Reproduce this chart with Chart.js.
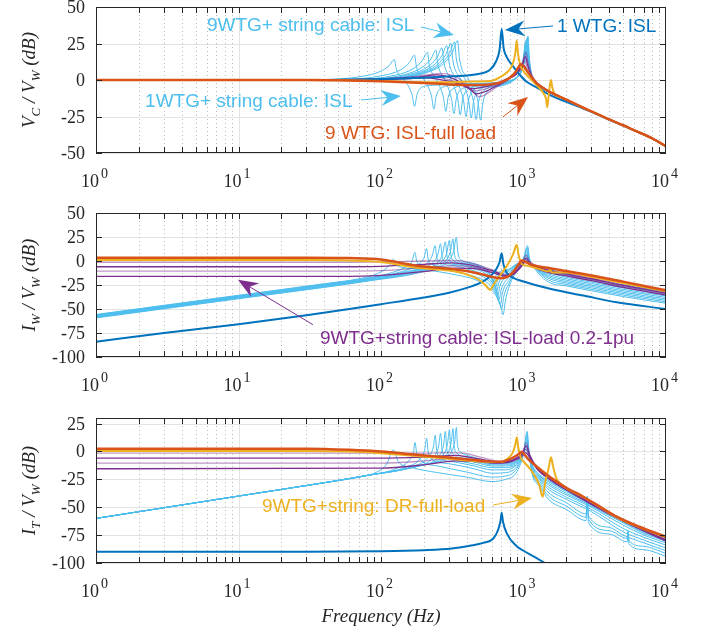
<!DOCTYPE html>
<html>
<head>
<meta charset="utf-8">
<script src="https://cdn.jsdelivr.net/npm/chart.js@4.4.0/dist/chart.umd.min.js"></script>
<style>
  body { margin: 0; background: #fff; }
  #wrap { position: relative; width: 709px; height: 635px; }
  #wrap canvas { position: absolute; left: 0; top: 0; }
</style>
</head>
<body>
<div id="wrap">
  <canvas id="vc" width="709" height="635"></canvas>
  <canvas id="iw" width="709" height="635"></canvas>
  <canvas id="it" width="709" height="635"></canvas>
</div>
<script>
// tick labels
const xTicks = [1, 10, 100, 1000, 10000];
const xTickExps = ['0', '1', '2', '3', '4'];
const vcTicks = [-50, -25, 0, 25, 50];
const iwTicks = [-100, -75, -50, -25, 0, 25, 50];
const itTicks = [-100, -75, -50, -25, 0, 25];

// ---------- panel 1 : Vc / Vw (dB), points are [Hz, dB] ----------
const vcTail = [[1550,-8.5],[2000,-13.5],[2630,-19],[3000,-21.5],[4000,-27],[5000,-31],[6000,-34.5],[8000,-40],[10000,-45.5]];
const vcCableTail = [[1150,2],[1236,-3],[1550,-8.8],[2000,-13.7],[2630,-19.1],[3000,-21.6],[4000,-27],[5000,-31],[6000,-34.5],[8000,-40],[10000,-45.5]];

const vcWtg = [[1,0],[30,0],[60,0.3],[100,0.6],[200,1.5],[314,2.5],[470,4],[582,7],[640,12.5],[680,21],[703,35],[725,22],[760,16],[850,9],[944,3.4],[1052,-1.2],[1236,-5],[1535,-10.3],[2000,-15],[2630,-19.5],[3000,-21.8],[4000,-27.2],[5000,-31.2],[6000,-34.6],[8000,-40],[10000,-45.5]];
const vcFull = [[1,0],[30,0],[60,-0.3],[100,-0.8],[200,-2],[300,-3],[450,-3.5],[580,-3],[700,-1.5],[800,1.5],[880,5.5],[930,9.5],[960,10.8],[1000,9.5],[1080,5],[1150,1.5],[1236,-2.3],[1374,-5.5]];
const vcDr = [[1,0],[30,0],[60,-0.3],[100,-0.7],[200,-1.5],[300,-1.5],[450,-1],[600,-0.5],[700,2.5],[780,6],[840,11],[875,18],[896,27],[915,18],[950,10],[1000,6],[1100,1.5],[1236,-3.4],[1380,-9],[1440,-13],[1470,-18.7],[1500,-11],[1530,-4],[1560,0],[1590,-5],[1664,-10],[1800,-11.5],[2000,-13.5],[2630,-19],[3000,-21.5],[4000,-27],[5000,-31],[6000,-34.5],[8000,-40],[10000,-45.5]];
const vcLoad = [
  [[1,0],[50,0.3],[100,1],[180,2.5],[260,4.5],[320,3],[380,-1.5],[440,-7.5],[490,-11.5],[540,-10],[620,-6],[750,-1],[880,5],[980,12],[1040,19],[1075,12],[1150,3],[1236,-1.5],[1374,-5]],
  [[1,0],[50,0.3],[100,0.8],[180,2],[245,3.5],[300,2],[360,-1.5],[420,-6],[465,-9.5],[520,-8.5],[620,-5],[750,-0.5],[880,4.5],[980,10.5],[1030,16],[1070,10],[1150,2],[1236,-2],[1374,-5.2]],
  [[1,0],[50,0.2],[100,0.6],[170,1.5],[225,2.5],[280,1],[340,-1.5],[400,-5],[445,-7.5],[500,-7],[620,-4],[750,0],[880,4],[970,9],[1020,13],[1065,8],[1150,1.5],[1236,-2.2],[1374,-5.3]],
  [[1,0],[50,0.1],[100,0.4],[160,1],[205,1.5],[260,0.3],[320,-1.5],[380,-4],[425,-6],[480,-5.5],[620,-3],[750,0.5],[880,3.5],[960,7.5],[1010,10],[1060,6],[1150,1],[1236,-2.5],[1374,-5.4]]
];
const vcCable = [
  [[1,0],[37,0.3],[74,2.5],[99,5.9],[114,9.8],[124,14],[128,7.7],[146,0],[165,-9.9],[172,-18],[179,-9.9],[198,-4.5],[241,-3.5],[400,-2.5],[700,-1.5],[900,2],[980,8],[1045,18],[1075,30],[1100,15]],
  [[1,0],[52,0.3],[103,3.1],[138,7.1],[158,11.9],[172,17],[177,9.4],[201,0],[226,-11],[235,-20],[244,-11],[270,-5],[329,-3.5],[500,-2.5],[700,-1.5],[900,2],[980,8],[1040,18],[1070,29.5],[1095,15]],
  [[1,0],[64,0.3],[127,3.4],[170,8],[195,13.3],[212,19],[218,10.5],[246,0],[274,-11.8],[285,-21.5],[296,-11.8],[328,-5.4],[399,-3.5],[550,-2.5],[700,-1.5],[900,2],[980,8],[1035,18],[1065,29],[1090,15]],
  [[1,0],[73,0.3],[146,3.7],[194,8.6],[224,14.4],[243,20.5],[250,11.3],[281,0],[312,-12.7],[325,-23],[338,-12.7],[374,-5.8],[455,-3.8],[600,-2.5],[750,-1],[900,2],[980,8],[1030,18],[1060,28.5],[1085,15]],
  [[1,0],[80,0.3],[161,4],[214,9.2],[247,15.4],[268,22],[276,12.1],[311,0],[346,-13.2],[360,-24],[374,-13.2],[414,-6],[504,-4],[650,-2.5],[780,-1],[900,2],[980,8],[1025,18],[1055,28],[1080,15]],
  [[1,0],[87,0.3],[174,4.2],[232,9.9],[267,16.5],[290,23.5],[299,12.9],[338,0],[379,-13.8],[395,-25],[411,-13.8],[454,-6.3],[553,-4.2],[700,-2.5],[800,-1],[900,2],[980,8],[1020,18],[1050,27.5],[1075,15]],
  [[1,0],[93,0.3],[186,4.5],[248,10.5],[285,17.5],[310,25],[319,13.8],[365,0],[413,-14.3],[430,-26],[447,-14.3],[495,-6.5],[602,-4.2],[750,-2],[850,0],[920,2.5],[980,8],[1015,18],[1045,27],[1070,15]],
  [[1,0],[98,0.3],[197,4.7],[262,10.9],[302,18.2],[328,26],[338,14.3],[391,0],[446,-14.9],[465,-27],[484,-14.9],[535,-6.8],[651,-4.2],[780,-2],[880,1],[940,4],[980,8],[1010,18],[1040,26.5],[1065,15]],
  [[1,0],[104,0.3],[207,4.9],[276,11.3],[317,18.9],[345,27],[355,14.9],[415,0],[480,-15.1],[500,-27.5],[520,-15.1],[575,-6.9],[700,-4],[820,-1.5],[900,2],[950,5],[980,8],[1005,18],[1035,26],[1060,15]]
];

// ---------- panel 2 : Iw / Vw (dB) ----------
const iwWtg = [[1,-84],[3,-75],[10,-66],[30,-56.5],[60,-50],[100,-45],[200,-38],[300,-33],[400,-28],[500,-22.5],[580,-16.5],[640,-9],[680,-1],[703,8],[722,-3],[760,-12],[850,-17.5],[1000,-21.3],[1535,-29],[2630,-36],[4510,-43],[10000,-50]];
const iwFull = [[1,3.5],[30,3.5],[60,3],[100,1.5],[178,-5],[300,-8],[400,-10.5],[500,-13.5],[600,-16.5],[700,-18],[780,-16],[850,-11],[920,-4],[970,0.5],[1020,-0.5],[1100,-3],[1250,-5.5],[1535,-7.5],[2000,-10.5],[3000,-15],[5000,-21.5],[10000,-30.6]];
const iwDr = [[1,1],[30,1],[60,0.5],[100,-1],[178,-7],[300,-10],[400,-14],[480,-19],[540,-25],[582,-30],[620,-24],[700,-13],[780,-3],[850,8],[896,16.8],[925,6],[960,-2],[1000,-4],[1100,-5.5],[1300,-8.5],[1500,-11],[1540,-9],[1580,-12],[2000,-12],[3000,-16.5],[5000,-23],[10000,-31.5]];
const iwLoad = [
  [[1,-1.5],[50,-1.5],[100,-1],[200,0],[300,0.5],[360,0.3],[450,-3],[600,-9],[750,-14],[850,-12],[950,-4],[1050,6],[1100,0],[1200,-4],[1500,-9],[2000,-12.5],[3000,-17.5],[5000,-24.5],[10000,-32.5]],
  [[1,-6],[50,-6],[100,-5.5],[200,-3.5],[320,-2],[450,-5],[600,-10],[750,-15],[850,-13],[950,-6],[1045,3],[1100,-1.5],[1200,-5],[1500,-10],[2000,-13.5],[3000,-18.5],[5000,-25.5],[10000,-33.5]],
  [[1,-10.5],[50,-10.5],[100,-10],[200,-7],[330,-5],[450,-6.5],[600,-11],[750,-15.5],[850,-13.5],[950,-6.5],[1040,1],[1100,-2.5],[1200,-6],[1500,-11],[2000,-14.5],[3000,-19.5],[5000,-26.5],[10000,-34.5]],
  [[1,-16],[50,-16],[100,-15],[200,-11],[330,-7.5],[450,-8],[600,-12],[750,-16],[850,-14],[950,-7],[1035,-1],[1100,-3.5],[1200,-7],[1500,-12],[2000,-15.5],[3000,-20.5],[5000,-27.5],[10000,-35.5]]
];
const iwCable = [
  [[1,-55.7],[10,-35.7],[40,-23.7],[70,-18.5],[95,-13],[110,-7],[118,-2],[122,2],[127,-3],[135,-6],[170,-8],[250,-11],[350,-15],[450,-19],[550,-26],[640,-36],[700,-50],[720,-56],[745,-42],[800,-25],[900,-10],[1000,2],[1068,16],[1100,3],[1200,-8],[1500,-22],[2000,-26],[3000,-31],[5000,-37],[10000,-44]],
  [[1,-56.15],[10,-36.15],[40,-24],[80,-18],[120,-12],[150,-6],[165,-0.5],[173,9],[178,0],[190,-5],[250,-8],[350,-12],[450,-16],[550,-22],[630,-32],[685,-45],[705,-50],[725,-38],[800,-22],[900,-8],[1000,2],[1062,14],[1100,2],[1200,-7],[1500,-20],[2000,-24.5],[3000,-29.5],[5000,-35.5],[10000,-42.5]],
  [[1,-56.6],[10,-36.6],[40,-24.5],[80,-18],[140,-11],[180,-4],[200,3],[209,13],[214,2],[225,-3],[300,-7],[400,-11],[500,-15],[580,-22],[650,-34],[690,-45],[710,-34],[800,-19],[900,-7],[1000,2],[1056,12],[1100,1],[1200,-7],[1500,-18],[2000,-23],[3000,-28],[5000,-34],[10000,-41]],
  [[1,-57.05],[10,-37.05],[40,-25],[80,-18.5],[150,-11],[200,-5],[228,5],[240,16],[246,4],[260,-1.5],[330,-5],[420,-9],[520,-14],[600,-22],[655,-33],[675,-40],[697,-30],[800,-16],[900,-6],[1000,1.5],[1050,10],[1100,0],[1200,-7],[1500,-16.5],[2000,-21.5],[3000,-26.5],[5000,-32.5],[10000,-39.5]],
  [[1,-57.5],[10,-37.5],[40,-25.5],[80,-19],[160,-11],[220,-4],[250,6],[262,18],[268,5],[283,-1],[350,-4],[450,-8],[540,-13],[610,-21],[645,-30],[660,-36],[683,-26],[800,-14],[900,-5],[1000,1],[1044,8],[1100,-1],[1200,-7],[1500,-15],[2000,-20],[3000,-25],[5000,-31],[10000,-38]],
  [[1,-57.95],[10,-37.95],[40,-26],[80,-19.5],[170,-11],[240,-3.5],[270,7],[283,20],[290,6],[305,-0.5],[370,-3.5],[460,-7],[550,-12],[610,-19],[635,-27],[648,-32],[670,-23],[800,-12],[900,-4],[1000,0.5],[1038,6],[1100,-1.5],[1200,-7],[1500,-13.5],[2000,-18.5],[3000,-23.5],[5000,-29.5],[10000,-36.5]],
  [[1,-58.4],[10,-38.4],[40,-26.5],[80,-20],[180,-11],[255,-3],[289,8],[302,21.5],[309,7],[325,0],[390,-3],[470,-6],[550,-11],[600,-17],[625,-24],[636,-29],[658,-20],[800,-10],[900,-3.5],[1000,0],[1032,4.5],[1100,-2],[1200,-7],[1500,-12],[2000,-17],[3000,-22],[5000,-28],[10000,-35]],
  [[1,-58.85],[10,-38.85],[40,-27],[80,-20.5],[190,-11],[270,-2.5],[306,9],[320,23],[327,8],[345,0.5],[410,-2.5],[480,-5],[550,-10],[595,-16],[615,-22],[624,-26],[646,-18],[800,-9],[900,-3],[1000,-0.5],[1026,3],[1100,-2.5],[1200,-7],[1500,-10.5],[2000,-15.5],[3000,-20.5],[5000,-26.5],[10000,-33.5]],
  [[1,-59.3],[10,-39.3],[40,-27.5],[80,-21],[200,-11],[285,-2],[323,10],[338,24.5],[346,9],[365,1],[430,-2],[500,-5],[560,-10],[592,-17],[605,-22],[612,-24],[635,-16],[800,-8],[900,-3],[1000,-1],[1020,2],[1100,-3],[1200,-7],[1500,-9],[2000,-14],[3000,-19],[5000,-25],[10000,-32]]
];

// ---------- panel 3 : It / Vw (dB) ----------
const itWtg = [[1,-90],[30,-90],[100,-89.5],[200,-88.5],[314,-87],[420,-84.5],[522,-82],[614,-78],[665,-70],[690,-62],[703,-55],[718,-63],[760,-73],[896,-85],[1000,-89],[1172,-94],[1415,-100],[1600,-104]];
const itFull = [[1,2.5],[30,2.5],[60,1.5],[100,0],[178,-3],[300,-5.5],[400,-7],[500,-8.3],[684,-9.3],[780,-7.5],[870,-4.5],[930,-2],[970,-0.2],[1010,-2.5],[1100,-8],[1236,-13.5],[1535,-23],[2000,-32.5],[2630,-40.6],[3500,-50],[4510,-58.5],[6500,-67.5],[10000,-76.5]];
const itDr = [[1,0.5],[30,0.5],[60,0],[100,-1.5],[178,-4],[300,-6.5],[400,-8],[500,-9],[684,-9.5],[780,-6],[840,-1],[875,6],[898,12.7],[915,5],[935,-1],[960,-6],[1000,-9],[1100,-15],[1200,-22],[1290,-30],[1362,-40.6],[1420,-28],[1500,-15],[1560,-5.3],[1610,-13],[1700,-24],[1800,-28.5],[2000,-33],[2630,-41],[3500,-50.5],[4510,-59],[6500,-68],[10000,-77]];
const itLoad = [
  [[1,-1.5],[100,-1.5],[200,-1.5],[300,-1],[380,-1.5],[500,-5],[700,-9],[850,-7],[980,-1],[1050,8],[1100,-2],[1250,-14.5],[1540,-24],[2000,-33],[3000,-46],[5000,-61],[10000,-79]],
  [[1,-6],[100,-6],[200,-5],[340,-3.5],[450,-6],[700,-9.5],[850,-7.5],[980,-2],[1045,5],[1100,-3],[1250,-15],[1540,-24.5],[2000,-33.5],[3000,-46.5],[5000,-61.5],[10000,-79.5]],
  [[1,-10.5],[100,-10.5],[200,-8.5],[340,-6],[450,-7.5],[700,-10],[850,-8],[980,-3],[1040,2],[1100,-4],[1250,-15.5],[1540,-25],[2000,-34],[3000,-47],[5000,-62],[10000,-80]],
  [[1,-15.5],[100,-15],[200,-12],[340,-8.5],[450,-9],[700,-10.5],[850,-8.5],[980,-4],[1035,-1],[1100,-5],[1250,-16],[1540,-25.5],[2000,-34.5],[3000,-47.5],[5000,-62.5],[10000,-80.5]]
];
const itCable = [
  [[1,-60],[10,-40],[40,-28],[70,-23],[95,-18],[110,-11],[122,1.5],[132,-9],[160,-14],[250,-19],[400,-23],[600,-27],[750,-25],[880,-20],[960,-10],[1010,0],[1060,18],[1090,2],[1150,-20],[1300,-31],[1500,-43],[2000,-52],[2750,-62],[2800,-40],[2860,-64],[4000,-74],[5350,-81],[5420,-72],[5500,-83],[7000,-88],[10000,-94]],
  [[1,-60],[10,-40],[40,-28],[80,-21.5],[130,-15],[160,-7],[169,-1],[173,8],[178,-1],[190,-8],[250,-13],[400,-18.5],[600,-23],[750,-22],[880,-17],[960,-8],[1010,1],[1057,16],[1090,1],[1150,-19],[1300,-29],[1500,-40],[2000,-49],[2750,-59],[2800,-42],[2860,-61],[4000,-71],[5350,-78],[5420,-71],[5500,-80],[7000,-85],[10000,-91.5]],
  [[1,-60],[10,-40],[40,-28],[80,-21.5],[150,-14],[190,-6],[203,2],[209,12],[214,0],[228,-7],[300,-11],[450,-15.5],[600,-19.5],[750,-19],[880,-15],[960,-7],[1010,1],[1054,14],[1090,0],[1150,-18],[1300,-27],[1500,-37],[2000,-46],[2750,-56],[2800,-45],[2860,-58],[4000,-68],[5000,-75],[7000,-82],[10000,-89]],
  [[1,-60],[10,-40],[40,-28],[80,-21.5],[160,-14],[215,-5],[233,4],[240,14.5],[246,1],[262,-6],[330,-9.5],[450,-13],[600,-16.5],[750,-16.5],[880,-13],[960,-6],[1010,1],[1051,12],[1090,-0.5],[1150,-17],[1300,-25.5],[1500,-34],[2000,-43],[3000,-54],[5000,-72],[7000,-79.5],[10000,-86.5]],
  [[1,-60],[10,-40],[40,-28],[80,-21.5],[170,-13.5],[235,-4.5],[254,5],[262,16.5],[268,2],[285,-5],[350,-8.5],[460,-11.5],[600,-14.5],[750,-14.5],[880,-12],[960,-5.5],[1010,1],[1048,10],[1090,-1],[1150,-16],[1300,-24.5],[1500,-32],[2000,-41],[3000,-52],[5000,-69],[7000,-77],[10000,-84]],
  [[1,-60],[10,-40],[40,-28],[80,-21.5],[180,-13],[255,-4],[275,6],[283,18],[289,3],[305,-4],[370,-7.5],[470,-10],[600,-13],[750,-13],[880,-11],[960,-5],[1010,0.5],[1045,8],[1090,-1.5],[1150,-15],[1300,-23.5],[1500,-30],[2000,-39],[3000,-50],[5000,-66],[7000,-75],[10000,-82]],
  [[1,-60],[10,-40],[40,-28],[80,-21.5],[190,-12.5],[272,-3.5],[293,7],[302,19.5],[308,4],[325,-3],[390,-6.5],[480,-9],[600,-12],[750,-12],[880,-10],[960,-4.5],[1010,0],[1042,6],[1090,-2],[1150,-14],[1300,-22.5],[1500,-28.5],[2000,-37.5],[3000,-49],[5000,-64],[7000,-73.5],[10000,-80.5]],
  [[1,-60],[10,-40],[40,-28],[80,-21.5],[200,-12],[288,-3],[311,8],[320,20.5],[326,5],[345,-2],[410,-5.5],[490,-8],[600,-11],[750,-11],[880,-9.5],[960,-4],[1010,-0.5],[1039,4],[1090,-2.5],[1150,-13],[1300,-22],[1500,-27],[2000,-36],[3000,-48],[5000,-63],[7000,-72.5],[10000,-79]],
  [[1,-60],[10,-40],[40,-28],[80,-21.5],[210,-11.5],[305,-2.5],[329,9],[338,21.5],[344,6],[365,-1],[430,-4.5],[500,-7],[600,-10],[750,-10],[880,-9],[960,-4],[1010,-1],[1036,2],[1090,-3],[1150,-12],[1300,-21],[1500,-26],[2000,-35],[3000,-47],[5000,-62],[7000,-71.5],[10000,-78]]
];

// colours (matlab default order)
const BLUE = '#0072BD', ORANGE = '#D95319', YELLOW = '#EDB120', PURPLE = '#7E2F8E', LIGHT_BLUE = '#4DBEEE';
const PURPLE_LIGHT = 'rgba(126,47,142,0.5)';
const INK = '#262626';

// text + arrow notes, anchored in data units [Hz, dB]
const vcNotes = [
  { text: '9WTG+ string cable: ISL', color: LIGHT_BLUE, at: [6.0, 33.6], from: [191, 36.3], to: [325, 30.8] },
  { text: '1 WTG: ISL', color: BLUE, at: [1718, 32.9], from: [1611, 37], to: [741, 34.2] },
  { text: '1WTG+ string cable: ISL', color: LIGHT_BLUE, at: [2.21, -18.5], from: [72.4, -13.7], to: [138, -11] },
  { text: '9 WTG: ISL-full load', color: ORANGE, at: [40.5, -40.4], from: [718, -25.3], to: [1076, -11.6] }
];
const iwNotes = [
  { text: '9WTG+string cable: ISL-load 0.2-1pu', color: PURPLE, at: [37.3, -86], from: [33.3, -66.3], to: [9.92, -19.6] }
];
const itNotes = [
  { text: '9WTG+string: DR-full-load', color: YELLOW, at: [14.6, -54.3], from: [611, -48], to: [1148, -41.7] }
];

const panels = {
  vc: { top: 7, bottom: 153, min: -50, max: 50, ticks: vcTicks, notes: vcNotes,
        title: [['V', 0], ['C', 1], [' / V', 0], ['W', 1], [' (dB)', 0]] },
  iw: { top: 213, bottom: 357, min: -100, max: 50, ticks: iwTicks, notes: iwNotes,
        title: [['I', 0], ['W', 1], [' / V', 0], ['W', 1], [' (dB)', 0]] },
  it: { top: 418, bottom: 563, min: -100, max: 30, ticks: itTicks, notes: itNotes, xlabel: 'Frequency (Hz)',
        title: [['I', 0], ['T', 1], [' / V', 0], ['W', 1], [' (dB)', 0]] }
};

function series(pts, color, width, order) {
  return {
    data: pts.map(p => ({ x: p[0], y: p[1] })),
    borderColor: color,
    borderWidth: width,
    order: order,
    pointRadius: 0,
    fill: false,
    clip: 0,
    cubicInterpolationMode: 'monotone'
  };
}

function buildSets(cable, loads, wtg, dr, full) {
  const sets = [];
  cable.forEach(c => sets.push(series(c, LIGHT_BLUE, 1, 4)));
  loads.forEach((p, i) => sets.push(series(p, i % 2 ? PURPLE : PURPLE_LIGHT, 1.3, 3)));
  sets.push(series(wtg, BLUE, 2, 2));
  sets.push(series(dr, YELLOW, 2, 1));
  sets.push(series(full, ORANGE, 2.5, 0)); // drawn on top
  return sets;
}

function arrow(ctx, x0, y0, x1, y1, color) {
  const ang = Math.atan2(y1 - y0, x1 - x0);
  const L = 20, W = 8;
  ctx.strokeStyle = color;
  ctx.fillStyle = color;
  ctx.lineWidth = 1;
  ctx.beginPath();
  ctx.moveTo(x0, y0);
  ctx.lineTo(x1 - Math.cos(ang) * L * 0.6, y1 - Math.sin(ang) * L * 0.6);
  ctx.stroke();
  ctx.save();
  ctx.translate(x1, y1);
  ctx.rotate(ang);
  ctx.beginPath();
  ctx.moveTo(0, 0);
  ctx.lineTo(-L, -W);
  ctx.lineTo(-L * 0.68, 0);
  ctx.lineTo(-L, W);
  ctx.closePath();
  ctx.fill();
  ctx.restore();
}

// matlab-like box, grid, ticks and labels
const axesPlugin = {
  id: 'matlabAxes',
  beforeDatasetsDraw(chart) {
    const cfg = panels[chart.canvas.id];
    const { ctx, chartArea: a, scales: { x, y } } = chart;
    ctx.save();
    ctx.lineWidth = 1;
    ctx.strokeStyle = '#e3e3e3';
    cfg.ticks.forEach(v => {
      const py = Math.round(y.getPixelForValue(v)) + 0.5;
      ctx.beginPath(); ctx.moveTo(a.left, py); ctx.lineTo(a.right, py); ctx.stroke();
    });
    for (let k = 0; k < 4; k++) {
      for (let m = 1; m <= 9; m++) {
        const px = Math.round(x.getPixelForValue(m * Math.pow(10, k))) + 0.5;
        if (m === 1) { ctx.setLineDash([]); ctx.strokeStyle = '#e3e3e3'; }
        else { ctx.setLineDash([1, 3]); ctx.strokeStyle = '#bcbcbc'; }
        ctx.beginPath(); ctx.moveTo(px, a.top); ctx.lineTo(px, a.bottom); ctx.stroke();
      }
    }
    ctx.restore();
  },
  afterDatasetsDraw(chart) {
    const cfg = panels[chart.canvas.id];
    const { ctx, chartArea: a, scales: { x, y } } = chart;
    ctx.save();
    ctx.strokeStyle = INK;
    ctx.lineWidth = 1;
    ctx.strokeRect(a.left + 0.5, a.top + 0.5, a.right - a.left - 1, a.bottom - a.top - 1);

    // inward tick marks
    ctx.beginPath();
    for (let k = 0; k < 4; k++) {
      for (let m = 1; m <= 9; m++) {
        const px = Math.round(x.getPixelForValue(m * Math.pow(10, k))) + 0.5;
        ctx.moveTo(px, a.bottom); ctx.lineTo(px, a.bottom - 6);
        ctx.moveTo(px, a.top); ctx.lineTo(px, a.top + 6);
      }
    }
    cfg.ticks.forEach(v => {
      const py = Math.round(y.getPixelForValue(v)) + 0.5;
      ctx.moveTo(a.left, py); ctx.lineTo(a.left + 6, py);
      ctx.moveTo(a.right, py); ctx.lineTo(a.right - 6, py);
    });
    ctx.stroke();

    // tick labels
    ctx.fillStyle = INK;
    ctx.textBaseline = 'alphabetic';
    ctx.font = '18px "Liberation Serif"';
    ctx.textAlign = 'right';
    cfg.ticks.forEach(v => ctx.fillText(String(v), a.left - 11, y.getPixelForValue(v) + 6));
    xTicks.forEach((v, i) => {
      const px = x.getPixelForValue(v);
      ctx.font = '18px "Liberation Serif"';
      ctx.textAlign = 'right';
      ctx.fillText('10', px + 3, a.bottom + 34);
      ctx.font = '14px "Liberation Serif"';
      ctx.textAlign = 'left';
      ctx.fillText(xTickExps[i], px + 5, a.bottom + 25);
    });

    // y title with subscripts, rotated
    ctx.save();
    ctx.translate(35, (a.top + a.bottom) / 2);
    ctx.rotate(-Math.PI / 2);
    const big = 'italic 19px "Liberation Serif"', small = 'italic 13px "Liberation Serif"';
    let total = 0;
    cfg.title.forEach(([t, sub]) => { ctx.font = sub ? small : big; total += ctx.measureText(t).width; });
    let cx = -total / 2;
    ctx.textAlign = 'left';
    cfg.title.forEach(([t, sub]) => {
      ctx.font = sub ? small : big;
      ctx.fillText(t, cx, sub ? 5 : 0);
      cx += ctx.measureText(t).width;
    });
    ctx.restore();

    if (cfg.xlabel) {
      ctx.font = 'italic 19px "Liberation Serif"';
      ctx.textAlign = 'center';
      ctx.fillText(cfg.xlabel, (a.left + a.right) / 2, a.bottom + 59);
    }

    // notes
    cfg.notes.forEach(n => {
      arrow(ctx, x.getPixelForValue(n.from[0]), y.getPixelForValue(n.from[1]),
            x.getPixelForValue(n.to[0]), y.getPixelForValue(n.to[1]), n.color);
      ctx.fillStyle = n.color;
      ctx.font = '19px "Liberation Sans"';
      ctx.textAlign = 'left';
      ctx.fillText(n.text, x.getPixelForValue(n.at[0]), y.getPixelForValue(n.at[1]));
    });
    ctx.restore();
  }
};

function makePanel(id, datasets) {
  const cfg = panels[id];
  return new Chart(document.getElementById(id), {
    type: 'line',
    data: { datasets: datasets },
    options: {
      responsive: false,
      animation: false,
      events: [],
      layout: { padding: { left: 96, right: 43, top: cfg.top, bottom: 635 - cfg.bottom } },
      plugins: { legend: { display: false }, tooltip: { enabled: false } },
      scales: {
        x: { type: 'logarithmic', min: 1, max: 10000, display: false },
        y: { type: 'linear', min: cfg.min, max: cfg.max, display: false }
      }
    },
    plugins: [axesPlugin]
  });
}

makePanel('vc', buildSets(vcCable.map(c => c.concat(vcCableTail)), vcLoad.map(p => p.concat(vcTail)), vcWtg, vcDr, vcFull.concat(vcTail)));
makePanel('iw', buildSets(iwCable, iwLoad, iwWtg, iwDr, iwFull));
makePanel('it', buildSets(itCable, itLoad, itWtg, itDr, itFull));
</script>
</body>
</html>
